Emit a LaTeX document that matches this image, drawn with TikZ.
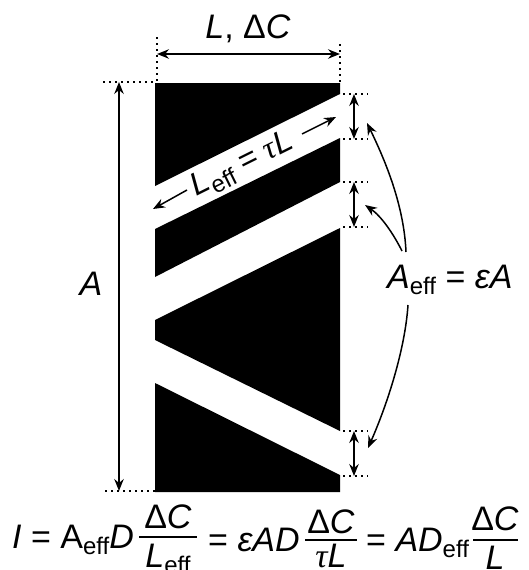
\documentclass[tikz,border=0pt]{standalone}
\usepackage{fontspec}
\setmainfont{Liberation Sans}
\newfontfamily\taufont{Liberation Serif}
\usetikzlibrary{arrows.meta}
\definecolor{PoreBlack}{RGB}{0,0,0}
\newcommand{\effsub}{\raisebox{-6.5pt}{\fontsize{24}{24}\selectfont eff}}
\newcommand{\tausym}{{\taufont\itshape τ}}
\tikzset{
  solid block/.style={fill=PoreBlack,draw=none},
  dimline/.style={{Stealth[length=12pt,width=9.5pt,inset=4pt]}-{Stealth[length=12pt,width=9.5pt,inset=4pt]},line width=1.6pt},
  oneway/.style={-{Stealth[length=12pt,width=9.5pt,inset=4pt]},line width=1.5pt},
  dotline/.style={line width=1.4pt,dash pattern=on 2pt off 4pt},
  fracbar/.style={line width=1.4pt},
  bigtext/.style={font=\fontsize{34}{34}\selectfont,inner sep=0pt}
}
\begin{document}
\begin{tikzpicture}[x=1pt,y=-1pt]
  \useasboundingbox (0,0) rectangle (528,570);

  \fill[solid block] (155,83) -- (340,83) -- (340,94) -- (155,186) -- cycle;
  \fill[solid block] (155,229) -- (340,138) -- (340,182) -- (155,277) -- cycle;
  \fill[solid block] (155,320) -- (340,228) -- (340,431) -- (155,340) -- cycle;
  \fill[solid block] (155,383) -- (340,475) -- (340,492) -- (155,492) -- cycle;

  \coordinate (lefttop) at (157,37);
  \coordinate (leftbase) at (157,83);
  \coordinate (righttop) at (340,44);
  \coordinate (rightbase) at (340,83);
  \coordinate (widthL) at (157,54);
  \coordinate (widthR) at (340,54);
  \draw[dotline] (lefttop) -- (leftbase);
  \draw[dotline] (righttop) -- (rightbase);
  \draw[dimline] (widthL) -- (widthR);
  \node[bigtext,anchor=base] (widthlabel) at (248,38) {\textit{L},~Δ\textit{C}};

  \coordinate (areatop) at (119,82);
  \coordinate (areabot) at (119,491);
  \coordinate (areatopdot) at (103,82);
  \coordinate (areabotdot) at (105,491);
  \coordinate (blocktop) at (155,82);
  \coordinate (blockbot) at (155,491);
  \draw[dotline] (areatopdot) -- (blocktop);
  \draw[dotline] (areabotdot) -- (blockbot);
  \draw[dimline] (areatop) -- (areabot);
  \node[bigtext,anchor=base] (arealabel) at (91,295) {\textit{A}};

  \foreach \gap/\ya/\yb in {first/94/139,second/182/227,third/431/476}{
    \coordinate (\gap topa) at (343,\ya);
    \coordinate (\gap topb) at (368,\ya);
    \coordinate (\gap bota) at (343,\yb);
    \coordinate (\gap botb) at (368,\yb);
    \coordinate (\gap up) at (354,\ya);
    \coordinate (\gap down) at (354,\yb);
    \draw[dotline] (\gap topa) -- (\gap topb);
    \draw[dotline] (\gap bota) -- (\gap botb);
    \draw[dimline] (\gap up) -- (\gap down);
  }

  \node[bigtext,anchor=base west] (effarea) at (387,288) {\textit{A}\effsub{} = \textit{εA}};
  \coordinate (fromone) at (406,252);
  \coordinate (fromtwo) at (402,251);
  \coordinate (fromthree) at (408,305);
  \coordinate (toone) at (367,123);
  \coordinate (totwo) at (365,205);
  \coordinate (tothree) at (368,448);
  \draw[oneway] (fromone) .. controls (404,205) and (385,160) .. (toone);
  \draw[oneway] (fromtwo) .. controls (393,233) and (381,216) .. (totwo);
  \draw[oneway] (fromthree) .. controls (405,350) and (387,405) .. (tothree);

  \node[bigtext,anchor=base,rotate=26.4,font=\fontsize{32}{32}\selectfont] (efflength) at (246,172) {\textit{L}\effsub{} = \tausym\textit{L}};
  \coordinate (lenleftfrom) at (187,190);
  \coordinate (lenleftto) at (153,209);
  \coordinate (lenrightfrom) at (302,134);
  \coordinate (lenrightto) at (336,117);
  \draw[oneway] (lenleftfrom) -- (lenleftto);
  \draw[oneway] (lenrightfrom) -- (lenrightto);

  \node[bigtext,anchor=base west] (fluxa) at (12,548) {\textit{I} = A\effsub\textit{D}};
  \node[bigtext,anchor=base] (numa) at (168,528) {Δ\textit{C}};
  \node[bigtext,anchor=base] (dena) at (168,567) {\textit{L}\effsub};
  \coordinate (barastart) at (139,537);
  \coordinate (baraend) at (197,537);
  \draw[fracbar] (barastart) -- (baraend);

  \node[bigtext,anchor=base west] (fluxb) at (208,551) {= \textit{εAD}};
  \node[bigtext,anchor=base] (numb) at (331,533) {Δ\textit{C}};
  \node[bigtext,anchor=base] (denb) at (331,567) {\tausym\textit{L}};
  \coordinate (barbstart) at (305,540);
  \coordinate (barbend) at (357,540);
  \draw[fracbar] (barbstart) -- (barbend);

  \node[bigtext,anchor=base west] (fluxc) at (366,551) {= \textit{AD}\effsub};
  \node[bigtext,anchor=base] (numc) at (495,530) {Δ\textit{C}};
  \node[bigtext,anchor=base] (denc) at (495,569) {\textit{L}};
  \coordinate (barcstart) at (473,540);
  \coordinate (barcend) at (518,540);
  \draw[fracbar] (barcstart) -- (barcend);
\end{tikzpicture}
\end{document}
